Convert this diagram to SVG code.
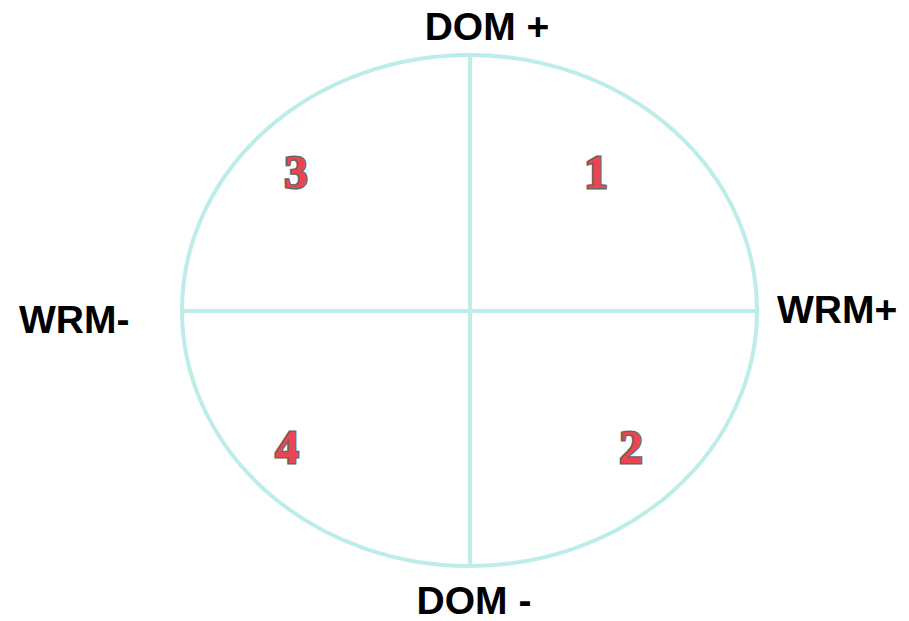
<svg xmlns="http://www.w3.org/2000/svg" width="909" height="621" viewBox="0 0 909 621">
<style>
.ax{fill:none;stroke:#BDEDE9;stroke-width:4}
.lbl{font-family:"Liberation Sans",Arial,sans-serif;font-weight:bold;font-size:39px;fill:#000}
.num{font-family:"Liberation Serif","Times New Roman",serif;font-weight:bold;font-size:47px;fill:#EC4450;stroke:#666;stroke-width:3;paint-order:stroke;text-anchor:middle}
</style>
<rect width="909" height="621" fill="#fff"/>
<g id="connectors">
<ellipse class="ax" cx="469.5" cy="310.5" rx="287.5" ry="255.5"/>
<line class="ax" x1="470" y1="55" x2="470" y2="566"/>
<line class="ax" x1="182" y1="311" x2="757" y2="311"/>
</g>
<g id="dom-plus"><text class="lbl" x="487" y="40" text-anchor="middle">DOM +</text></g>
<g id="dom-minus"><text class="lbl" x="474" y="614" text-anchor="middle">DOM -</text></g>
<g id="wrm-minus"><text class="lbl" x="19" y="333">WRM-</text></g>
<g id="wrm-plus"><text class="lbl" x="777" y="323">WRM+</text></g>
<g id="q3"><text class="num" x="296" y="188">3</text></g>
<g id="q1"><text class="num" x="596" y="188">1</text></g>
<g id="q4"><text class="num" x="287" y="463">4</text></g>
<g id="q2"><text class="num" x="631" y="463">2</text></g>
</svg>
